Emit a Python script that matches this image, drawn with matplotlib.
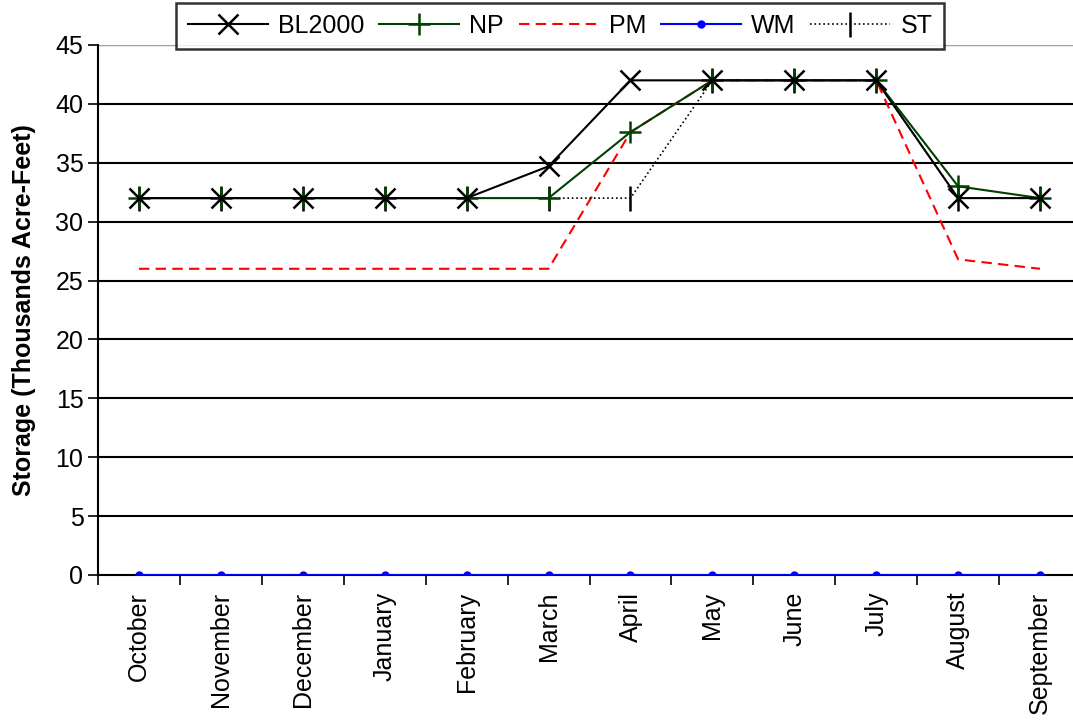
import matplotlib
matplotlib.use("Agg")
import matplotlib.pyplot as plt
import numpy as np

months = ['October', 'November', 'December', 'January', 'February', 'March',
          'April', 'May', 'June', 'July', 'August', 'September']
bl2000 = [32, 32, 32, 32, 32, 34.7, 42, 42, 42, 42, 32, 32]
np_ = [32, 32, 32, 32, 32, 32, 37.6, 42, 42, 42, 33, 32]
pm = [26, 26, 26, 26, 26, 26, 37.6, 42, 42, 42, 26.8, 26]
wm = [0] * 12
st = [32, 32, 32, 32, 32, 32, 32, 42, 42, 42, 32, 32]

plt.rcParams['font.family'] = ['Liberation Sans', 'DejaVu Sans']

fig = plt.figure(figsize=(10.73, 7.26), dpi=100)
ax = fig.add_axes([98 / 1073, 1 - 575 / 726, (1081 - 98) / 1073, 530 / 726])

x = np.arange(len(months))
ax.plot(x, bl2000, '-', color='black', lw=1.5, marker='x', ms=14, mew=1.8, label='BL2000', zorder=5)
ax.plot(x, np_, '-', color='#004000', lw=1.5, marker='+', ms=16, mew=1.8, label='NP', zorder=4)
ax.plot(x, pm, '--', color='red', lw=1.5, dashes=(5, 3), label='PM', zorder=3)
ax.plot(x, wm, '-', color='blue', lw=1.5, marker='o', ms=5, label='WM', zorder=6)
ax.plot(x, st, ':', color='black', lw=1.2, marker='|', ms=18, mew=1.8, label='ST', zorder=3)

ax.set_xlim(-0.5, len(months) - 0.5)
ax.set_ylim(0, 45)
ax.set_yticks(np.arange(0, 46, 5))
ax.tick_params(axis='y', labelsize=18, direction='out', length=7, width=1.2)
ax.set_xticks(x)
ax.set_xticklabels(months, rotation=90, fontsize=18)
ax.tick_params(axis='x', length=0, pad=12)
ax.set_xticks(np.arange(-0.5, len(months), 1), minor=True)
ax.tick_params(axis='x', which='minor', direction='out', length=7, width=1.2)

for y in range(5, 45, 5):
    ax.axhline(y, color='black', lw=1.5, zorder=1)

for side in ['top', 'right']:
    ax.spines[side].set_visible(False)
ax.spines['left'].set_linewidth(1.5)
ax.spines['bottom'].set_linewidth(1.5)
ax.axhline(45, color='#a0a0a0', lw=1, zorder=0)

ax.set_ylabel('Storage (Thousands Acre-Feet)', fontsize=18, fontweight='bold', labelpad=14)

leg = fig.legend(loc='upper center', bbox_to_anchor=(560 / 1073, 1.0), ncol=5,
                 fontsize=18, frameon=True, fancybox=False, edgecolor='black',
                 handlelength=3.2, columnspacing=0.6, handletextpad=0.4,
                 borderpad=0.45, borderaxespad=0.1)
leg.get_frame().set_linewidth(1.8)

fig.savefig('out.png', dpi=100)
